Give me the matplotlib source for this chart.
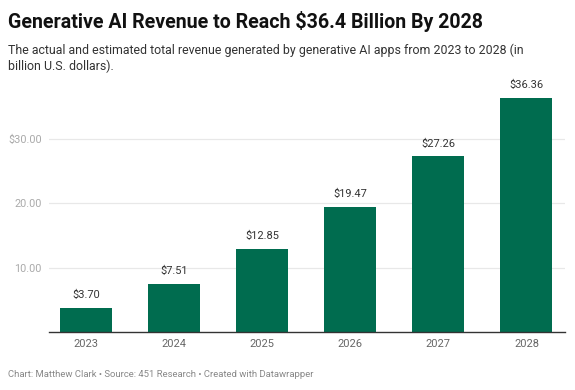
import matplotlib.pyplot as plt
import numpy as np

plt.rcParams['font.family'] = ['Roboto', 'DejaVu Sans']

# data
years = ['2023', '2024', '2025', '2026', '2027', '2028']
revenue = [3.70, 7.51, 12.85, 19.47, 27.26, 36.36]
ytick_vals = [10, 20, 30]
ytick_labels = ['10.00', '20.00', '$30.00']

bar_color = '#006c4f'

fig = plt.figure(figsize=(5.75, 3.9), dpi=100)
ax = fig.add_axes([0.085, 0.149, 0.898, 0.66])

x = np.arange(len(years))
ax.bar(x, revenue, width=0.59, color=bar_color, zorder=3)

# value labels above bars
for xi, v in zip(x, revenue):
    ax.text(xi, v + 1.2, f'${v:.2f}', ha='center', va='bottom',
            fontsize=7.9, color='#333333')

ax.set_xlim(-0.42, 5.44)
ax.set_ylim(0, 40)
ax.set_xticks(x)
ax.set_xticklabels(years, fontsize=7.9, color='#666666')
ax.set_yticks(ytick_vals)
ax.set_yticklabels(ytick_labels, fontsize=7.8, color='#aaaaaa')
ax.tick_params(axis='both', length=0)
ax.tick_params(axis='x', pad=5)
ax.tick_params(axis='y', pad=5)
ax.grid(axis='y', color='#e8e8e8', linewidth=0.9, zorder=0)

for s in ['top', 'right', 'left']:
    ax.spines[s].set_visible(False)
ax.spines['bottom'].set_color('#333333')
ax.spines['bottom'].set_linewidth(1.0)
ax.spines['bottom'].set_zorder(4)

# titles and footer
fig.text(0.014, 0.944, 'Generative AI Revenue to Reach $36.4 Billion By 2028',
         fontsize=14.1, fontweight='bold', color='#111111', va='center')
fig.text(0.014, 0.872,
         'The actual and estimated total revenue generated by generative AI apps from 2023 to 2028 (in',
         fontsize=8.9, color='#333333', va='center')
fig.text(0.014, 0.830, 'billion U.S. dollars).',
         fontsize=8.9, color='#333333', va='center')
fig.text(0.014, 0.041,
         'Chart: Matthew Clark \u2022 Source: 451 Research \u2022 Created with Datawrapper',
         fontsize=6.8, color='#888888', va='center')

fig.savefig('out.png', dpi=100, facecolor='white')
